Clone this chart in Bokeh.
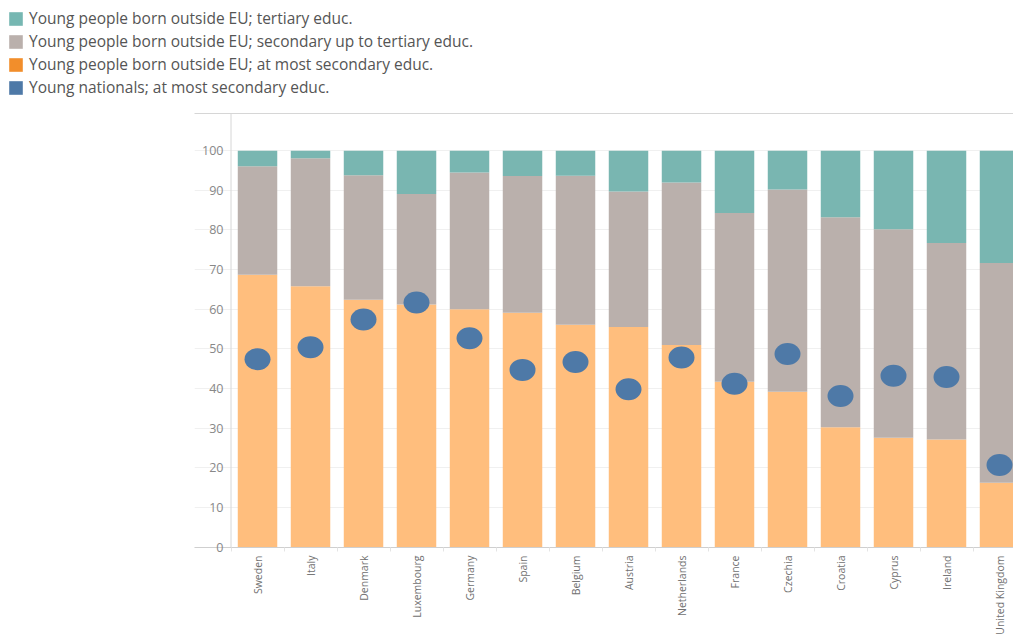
from bokeh.plotting import figure
from bokeh.layouts import column
from bokeh.models import (Range1d, LinearAxis, FixedTicker, Span, Legend, LegendItem,
                          ColumnDataSource, Grid)
from bokeh.embed import file_html
from bokeh.resources import INLINE

countries = ["Sweden", "Italy", "Denmark", "Luxembourg", "Germany", "Spain", "Belgium",
             "Austria", "Netherlands", "France", "Czechia", "Croatia", "Cyprus", "Ireland",
             "United Kingdom"]
at_most_secondary = [68.7, 65.8, 62.4, 61.2, 60.0, 59.1, 56.1, 55.5, 51.0, 41.7, 39.2, 30.2, 27.6, 27.1, 16.2]
secondary_to_tertiary = [27.4, 32.3, 31.4, 27.9, 34.5, 34.5, 37.6, 34.2, 41.0, 42.6, 51.0, 53.0, 52.6, 49.6, 55.5]
tertiary = [3.9, 1.9, 6.2, 10.9, 5.5, 6.4, 6.3, 10.3, 8.0, 15.7, 9.8, 16.8, 19.8, 23.3, 28.3]
nationals = [47.4, 50.4, 57.4, 61.7, 52.7, 44.7, 46.7, 39.8, 47.8, 41.2, 48.7, 38.1, 43.2, 42.9, 20.7]
y_ticks = [0, 10, 20, 30, 40, 50, 60, 70, 80, 90, 100]
legend_labels = ["Young people born outside EU; tertiary educ.",
                 "Young people born outside EU; secondary up to tertiary educ.",
                 "Young people born outside EU; at most secondary educ.",
                 "Young nationals; at most secondary educ."]
legend_colors = ["#76b7b2", "#bab0ac", "#f28e2b", "#4e79a7"]

idx = list(range(len(countries)))
src = ColumnDataSource(dict(x=idx, a=at_most_secondary, b=secondary_to_tertiary,
                            c=tertiary, n=nationals))

FONT = "Open Sans"

# ---- legend strip (its own figure; the series are drawn outside its visible range,
#      only the legend swatches show)
lf = figure(width=1013, height=100, output_backend="svg", toolbar_location=None,
            x_axis_type=None, y_axis_type=None,
            x_range=Range1d(-1, 15), y_range=Range1d(1000, 1001),
            min_border=0)
lf.frame_align = False
lf.outline_line_color = None
lf.xgrid.visible = False
lf.ygrid.visible = False
items = []
for lab, col, fld in zip(legend_labels, legend_colors, ["c", "b", "a", "n"]):
    r = lf.vbar(x="x", top=fld, width=0.5, source=src, fill_color=col, line_color=None)
    items.append(LegendItem(label=lab, renderers=[r]))
legend = Legend(items=items, location="top_left", orientation="vertical",
                glyph_width=17, glyph_height=17, label_height=17, spacing=1,
                label_standoff=5, padding=0, margin=7,
                border_line_color=None, background_fill_alpha=0,
                label_text_font=FONT, label_text_font_size="15.5px",
                label_text_color="#555555")
lf.add_layout(legend, "center")

# ---- main chart
p = figure(width=1013, height=537, output_backend="svg", toolbar_location=None,
           x_range=Range1d(-1.189, 14.264), y_range=Range1d(-0.125, 109.4),
           x_axis_type=None, y_axis_type=None,
           min_border_left=194, min_border_right=0, min_border_top=13, min_border_bottom=88)
p.frame_align = False
p.outline_line_color = None
p.background_fill_color = "white"
p.border_fill_color = "white"

ygrid = Grid(dimension=1, ticker=FixedTicker(ticks=y_ticks), grid_line_color="#f0f0f0")
p.add_layout(ygrid)

p.vbar_stack(["a", "b", "c"], x="x", width=0.745, source=src,
             color=["#ffbe7d", "#bab0ac", "#79b6b1"], line_color=None)
p.ellipse(x="x", y="n", width=26, height=22, width_units="screen", height_units="screen",
          source=src, fill_color="#4e79a7", line_color=None)

xaxis = LinearAxis(ticker=FixedTicker(ticks=idx, minor_ticks=[i - 0.5 for i in range(len(countries) + 1)]))
xaxis.major_label_overrides = {i: c for i, c in zip(idx, countries)}
xaxis.major_label_orientation = 1.5708
xaxis.major_label_text_font = FONT
xaxis.major_label_text_font_size = "10.5px"
xaxis.major_label_text_color = "#707070"
xaxis.major_label_standoff = 4
xaxis.major_tick_line_color = None
xaxis.major_tick_out = 0
xaxis.minor_tick_line_color = "#e4e4e4"
xaxis.minor_tick_out = 4
xaxis.minor_tick_in = 0
xaxis.axis_line_color = "#cfcfcf"
p.add_layout(xaxis, "below")

top_axis = LinearAxis(ticker=FixedTicker(ticks=[]))
top_axis.axis_line_color = "#d6d6d6"
top_axis.major_tick_line_color = None
top_axis.minor_tick_line_color = None
p.add_layout(top_axis, "above")

yaxis = LinearAxis(ticker=FixedTicker(ticks=y_ticks))
yaxis.axis_line_color = None
yaxis.major_tick_line_color = None
yaxis.minor_tick_line_color = None
yaxis.major_tick_out = 0
yaxis.major_label_standoff = -29
yaxis.major_label_text_font = FONT
yaxis.major_label_text_font_size = "12.5px"
yaxis.major_label_text_color = "#888888"
p.add_layout(yaxis, "left")

p.add_layout(Span(location=-0.5, dimension="height", line_color="#d6d6d6", line_width=1))

layout = column(lf, p, spacing=0)
open("out.html", "w").write(file_html(layout, INLINE))
